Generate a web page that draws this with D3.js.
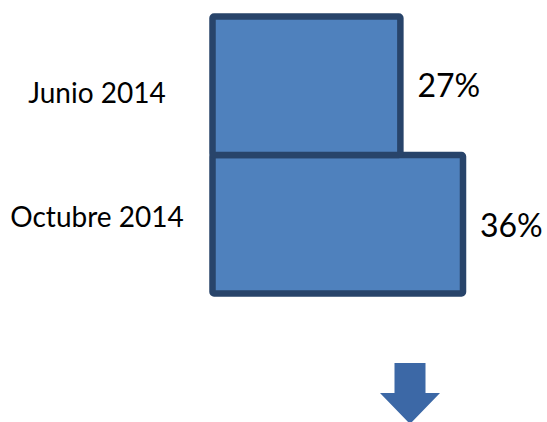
<!DOCTYPE html>
<html lang="es">
<head>
  <meta charset="UTF-8">
  <title>Junio vs Octubre 2014</title>
  <script src="https://d3js.org/d3.v7.min.js"></script>
  <style>
    body { margin: 0; background: #fff; }
    text { font-family: Lato, "Open Sans", sans-serif; fill: #000; }
  </style>
</head>
<body>
  <div id="viz"></div>
  <script>
    // values
    var categories = ["Junio 2014", "Octubre 2014"];
    var values = [27, 36];
    var valueLabels = ["27%", "36%"];

    var width = 547;
    var height = 422;

    var svg = d3.select("#viz").append("svg")
      .attr("width", width)
      .attr("height", height);

    // bars start at the same left edge, 36% reaches ~463px
    var x = d3.scaleLinear()
      .domain([0, 36])
      .range([212.5, 463]);

    // bars are stacked with no gap
    var y = d3.scaleBand()
      .domain(categories)
      .range([16.5, 293.5])
      .padding(0);

    // the category text was placed by hand, a bit off the bar centres
    var yLabel = d3.scalePoint()
      .domain(categories)
      .range([103, 227]);

    var yValue = d3.scalePoint()
      .domain(categories)
      .range([97, 237]);

    var data = categories.map(function(c, i) {
      return { cat: c, value: values[i], label: valueLabels[i] };
    });

    // draw the second bar first so the first one's outline sits on top
    svg.append("g")
      .selectAll("rect")
      .data(data.slice().reverse())
      .enter().append("rect")
      .attr("x", x(0))
      .attr("y", function(d) { return y(d.cat); })
      .attr("width", function(d) { return x(d.value) - x(0); })
      .attr("height", y.bandwidth())
      .attr("rx", 1.5)
      .style("fill", "#4f81bd")
      .style("stroke", "#28446a")
      .style("stroke-width", 6.5)
      .style("stroke-linejoin", "round");

    // category names on the left
    svg.append("g")
      .selectAll("text")
      .data(data)
      .enter().append("text")
      .attr("x", 97)
      .attr("y", function(d) { return yLabel(d.cat); })
      .attr("text-anchor", "middle")
      .style("font-size", "28px")
      .text(function(d) { return d.cat; });

    // value labels beside the bars
    svg.append("g")
      .selectAll("text")
      .data(data)
      .enter().append("text")
      .attr("x", function(d) { return x(d.value) + 17; })
      .attr("y", function(d) { return yValue(d.cat); })
      .style("font-size", "32px")
      .text(function(d) { return d.label; });

    // down arrow under the chart
    var ax = 410, shaftTop = 363, headY = 393, tipY = 424;
    svg.append("path")
      .attr("d", "M" + (ax - 15.5) + "," + shaftTop +
        "H" + (ax + 15.5) +
        "V" + headY +
        "H" + (ax + 30) +
        "L" + ax + "," + tipY +
        "L" + (ax - 30) + "," + headY +
        "H" + (ax - 15.5) + "Z")
      .style("fill", "#3c68a6");
  </script>
</body>
</html>
